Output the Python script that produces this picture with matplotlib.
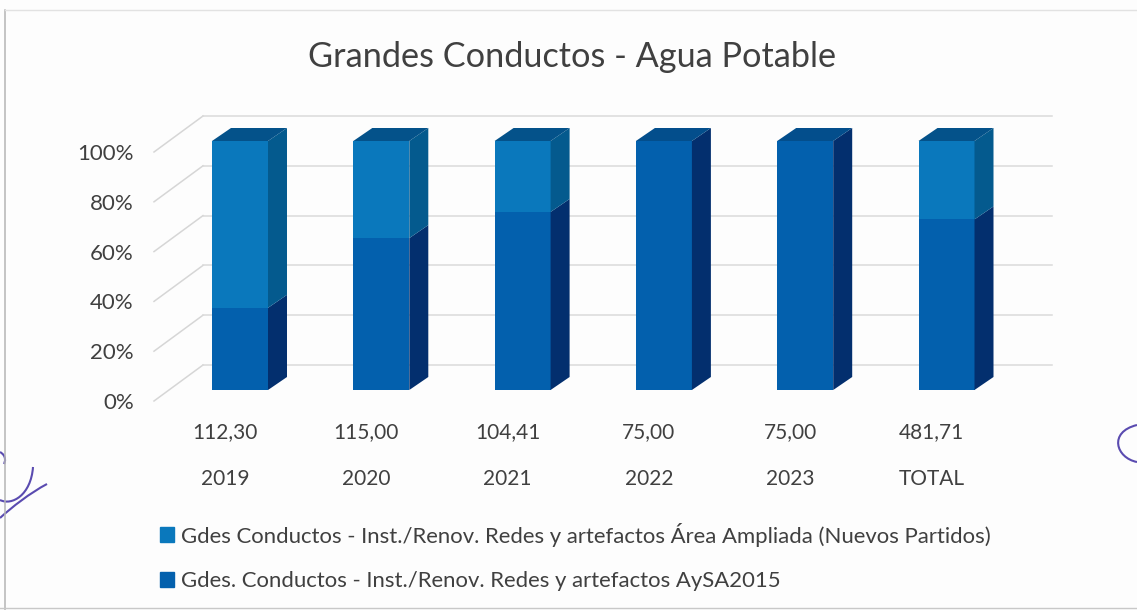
import matplotlib
matplotlib.use('Agg')
import matplotlib.pyplot as plt
from matplotlib.patches import Polygon, Patch, PathPatch
from matplotlib.path import Path

plt.rcParams['font.family'] = ['Lato', 'DejaVu Sans']

# Datos
categorias = ['2019', '2020', '2021', '2022', '2023', 'TOTAL']
montos = ['112,30', '115,00', '104,41', '75,00', '75,00', '481,71']
aysa = [33, 61, 71.5, 100, 100, 68.5]
ampliada = [67, 39, 28.5, 0, 0, 31.5]
y_ticks = [0, 20, 40, 60, 80, 100]
y_labels = ['0%', '20%', '40%', '60%', '80%', '100%']
leyenda = ['Gdes Conductos - Inst./Renov. Redes y artefactos Área Ampliada (Nuevos Partidos)',
           'Gdes. Conductos - Inst./Renov. Redes y artefactos AySA2015']

W, H = 1137, 610
fig = plt.figure(figsize=(W / 100, H / 100), dpi=100, facecolor='#fdfdfd')

# Ejes alineados con el plano frontal del piso
left, right, top, bottom = 154, 1052, 152, 401
ax = fig.add_axes([left / W, 1 - bottom / H, (right - left) / W, (bottom - top) / H])
px_cat = 141.3
ax.set_xlim((left - 240) / px_cat, (right - 240) / px_cat)
ax.set_ylim(0, 100)
ax.patch.set_alpha(0)
for s in ax.spines.values():
    s.set_visible(False)

px_y = (bottom - top) / 100
lift = 11 / px_y       # la barra esta a mitad de la profundidad
wall_dx = 49 / px_cat  # pared lateral
wall_dy = 36 / px_y
bar_w = 56 / px_cat
depth_x = 19 / px_cat
depth_y = 13 / px_y

# Grilla en pared lateral y fondo
x0, x1 = ax.get_xlim()
for v in y_ticks:
    ax.plot([x0, x0 + wall_dx], [v, v + wall_dy], color='#d6d6d6', lw=1.1, clip_on=False, zorder=1)
    ax.plot([x0 + wall_dx, x1], [v + wall_dy, v + wall_dy], color='#dadada', lw=1.1, clip_on=False, zorder=1)


def caja(ax, x, y0, y1, c_frente, c_lado, c_techo=None):
    l, r = x - bar_w / 2, x + bar_w / 2
    ax.bar(x, y1 - y0, bar_w, bottom=y0, color=c_frente, zorder=3, clip_on=False)
    ax.add_patch(Polygon([(r, y0), (r + depth_x, y0 + depth_y), (r + depth_x, y1 + depth_y), (r, y1)],
                         color=c_lado, lw=0, zorder=3, clip_on=False))
    if c_techo:
        ax.add_patch(Polygon([(l, y1), (l + depth_x, y1 + depth_y), (r + depth_x, y1 + depth_y), (r, y1)],
                             color=c_techo, lw=0, zorder=3, clip_on=False))


for i in range(len(categorias)):
    a, b = aysa[i], ampliada[i]
    caja(ax, i, lift, lift + a, '#0360ad', '#032f6e', '#034e8c' if b == 0 else None)
    if b > 0:
        caja(ax, i, lift + a, lift + a + b, '#0a78bc', '#045a8e', '#04528a')

ax.set_yticks(y_ticks)
ax.set_yticklabels(y_labels, fontsize=16, color='#404040')
ax.tick_params(axis='y', length=0, pad=14.5)
ax.set_xticks([])

# Rotulos de montos y anios debajo del piso
for i in range(len(categorias)):
    ax.annotate(montos[i], (i, 0), xytext=(-15 * 0.72, -31 * 0.72), textcoords='offset points',
                ha='center', va='center', fontsize=15, color='#404040', annotation_clip=False)
    ax.annotate(categorias[i], (i, 0), xytext=(-15 * 0.72, -78 * 0.72), textcoords='offset points',
                ha='center', va='center', fontsize=15, color='#404040', annotation_clip=False)

fig.text(572 / W, 1 - 57 / H, 'Grandes Conductos - Agua Potable', ha='center', va='center',
         fontsize=24.7, color='#404040')

handles = [Patch(color='#0a78bc', label=leyenda[0]), Patch(color='#0360ad', label=leyenda[1])]
fig.legend(handles=handles, loc='upper left', bbox_to_anchor=(153 / W, 1 - 516 / H), frameon=False,
           fontsize=15.9, labelcolor='#404040', handlelength=0.65, handleheight=0.65, handletextpad=0.32,
           labelspacing=1.11, borderpad=0.3, borderaxespad=0)

# Marco del documento escaneado y trazos a mano
fig.add_artist(plt.Line2D([5 / W, 5 / W], [0, 1 - 10 / H], color='#b5b5b5', lw=1.1))
fig.add_artist(plt.Line2D([5 / W, 1], [1 - 10 / H, 1 - 10 / H], color='#e2e2e2', lw=1))
fig.add_artist(plt.Line2D([0, 1], [1 - 608 / H, 1 - 608 / H], color='#c8c8c8', lw=1))
tinta = '#5a4bb0'
trazos = [[(33, 467), (31, 495), (12, 506), (0, 500)],
          [(47, 484), (30, 493), (12, 507), (0, 518)],
          [(0, 452), (7, 456), (5, 462), (4, 464)],
          [(1137, 425), (1108, 432), (1116, 458), (1137, 462)]]
for t in trazos:
    pts = [(x / W, 1 - y / H) for x, y in t]
    camino = Path(pts, [Path.MOVETO, Path.CURVE4, Path.CURVE4, Path.CURVE4])
    fig.add_artist(PathPatch(camino, fc='none', ec=tinta, lw=1.5, transform=fig.transFigure))

fig.savefig('out.png', dpi=100, facecolor=fig.get_facecolor())
